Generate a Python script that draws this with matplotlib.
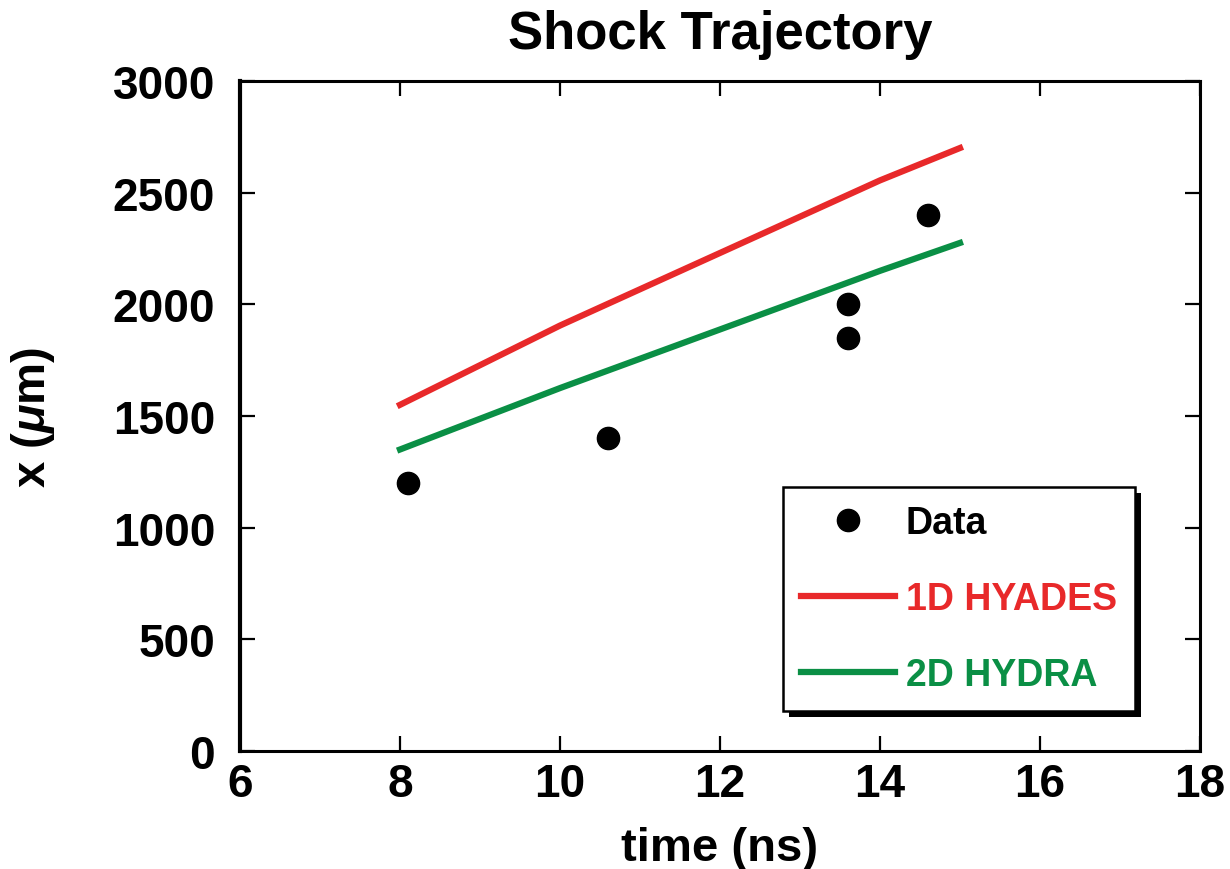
import matplotlib
matplotlib.use('Agg')
import matplotlib.pyplot as plt
import matplotlib.patheffects as pe

# measured shock positions
data_t = [8.1, 10.6, 13.6, 13.6, 14.6]
data_x = [1200, 1400, 2000, 1850, 2400]

# simulations
hyades_t = [8, 10, 14, 15]
hyades_x = [1550, 1905, 2555, 2700]
hydra_t = [8, 10, 14, 15]
hydra_x = [1350, 1625, 2150, 2275]

red = '#E8292A'
green = '#0A8F45'

plt.rcParams['font.family'] = ['Liberation Sans', 'DejaVu Sans']
plt.rcParams['font.weight'] = 'bold'
plt.rcParams['mathtext.fontset'] = 'custom'
plt.rcParams['mathtext.rm'] = 'Liberation Sans:bold'
plt.rcParams['mathtext.it'] = 'Liberation Sans:italic:bold'

fig = plt.figure(figsize=(12.3, 8.7), dpi=100)
ax = fig.add_axes([240/1230, 1 - 752/870, 960/1230, 670/870])

ax.plot(data_t, data_x, 'o', color='black', markersize=16, label='Data')
ax.plot(hyades_t, hyades_x, color=red, linewidth=4.5, label='1D HYADES')
ax.plot(hydra_t, hydra_x, color=green, linewidth=4.5, label='2D HYDRA')

ax.set_xlim(6, 18)
ax.set_ylim(0, 3000)
ax.set_xticks(range(6, 19, 2))
ax.set_yticks(range(0, 3001, 500))

ax.tick_params(direction='in', length=11, width=1.6, top=True, right=True,
               labelsize=33)
ax.tick_params(axis='y', pad=18)
ax.tick_params(axis='x', pad=8)
for s in ax.spines.values():
    s.set_linewidth(2.2)
ax.spines['left'].set_linewidth(3)

ax.set_title('Shock Trajectory', fontsize=38, fontweight='bold', pad=24)
ax.set_xlabel('time (ns)', fontsize=34, fontweight='bold', labelpad=14)
ax.set_ylabel(r'x ($\mu$m)', fontsize=34, fontweight='bold', labelpad=40)

leg = ax.legend(loc='upper left', bbox_to_anchor=(783/1230, 1 - 488/870),
                bbox_transform=fig.transFigure, borderaxespad=0,
                fontsize=27, frameon=True, fancybox=False,
                handlelength=2.5, handletextpad=0.3, labelspacing=1.07,
                borderpad=0.48, markerscale=1.0)
frame = leg.get_frame()
frame.set_edgecolor('black')
frame.set_linewidth(1.8)
frame.set_alpha(1)
frame.set_path_effects([pe.SimplePatchShadow(offset=(4.3, -4.3), shadow_rgbFace='black', alpha=1),
                        pe.Normal()])
for txt, c in zip(leg.get_texts(), ['black', red, green]):
    txt.set_color(c)

fig.savefig('out.png', dpi=100)
